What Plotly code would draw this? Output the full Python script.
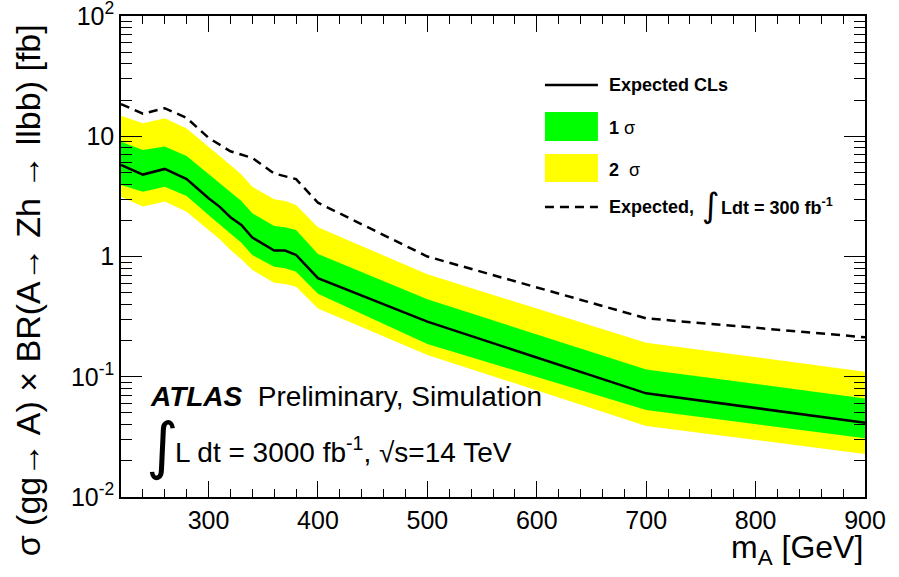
import plotly.graph_objects as go

# ---- data ----
mass = [220, 240, 260, 280, 300, 310, 320, 330, 340, 360, 370, 380, 400, 500, 700, 900]
expected = [5.77, 4.8, 5.35, 4.4, 3.05, 2.6, 2.12, 1.83, 1.44, 1.12, 1.12, 1.03, 0.66, 0.287, 0.0728, 0.0415]
plus1 = [9.0, 7.7, 8.2, 6.85, 4.85, 4.1, 3.46, 2.9, 2.29, 1.79, 1.75, 1.66, 1.05, 0.44, 0.115, 0.066]
minus1 = [3.93, 3.46, 3.81, 3.18, 2.21, 1.85, 1.56, 1.3, 1.03, 0.822, 0.80, 0.748, 0.49, 0.187, 0.053, 0.0308]
plus2 = [14.8, 12.8, 14.1, 11.6, 8.19, 6.9, 5.77, 4.8, 3.81, 2.99, 2.9, 2.68, 1.75, 0.711, 0.192, 0.110]
minus2 = [3.14, 2.6, 2.86, 2.36, 1.66, 1.4, 1.13, 0.95, 0.773, 0.605, 0.59, 0.561, 0.37, 0.152, 0.039, 0.0228]

mass_300 = [220, 240, 260, 280, 300, 320, 340, 360, 380, 400, 500, 700, 900]
expected_300 = [18.5, 15.4, 17.1, 14.2, 9.7, 7.5, 6.6, 4.9, 4.4, 2.8, 1.0, 0.306, 0.213]

y_tickvals = [0.01, 0.1, 1, 10, 100]
y_ticktext = ["10<sup>-2</sup>", "10<sup>-1</sup>", "1", "10", "10<sup>2</sup>"]
y_minorvals = [m * 10 ** e for e in (-2, -1, 0, 1) for m in range(2, 10)]
x_tickvals = [300, 400, 500, 600, 700, 800, 900]

GREEN = "#00ff00"
YELLOW = "#ffff00"
FONT = "Liberation Sans, Arial, Helvetica, sans-serif"

fig = go.Figure()
# 2 sigma band
fig.add_trace(go.Scatter(x=mass, y=plus2, mode="lines", line=dict(width=0, color=YELLOW),
                         showlegend=False, hoverinfo="skip"))
fig.add_trace(go.Scatter(x=mass, y=minus2, mode="lines", line=dict(width=0, color=YELLOW),
                         fill="tonexty", fillcolor=YELLOW, showlegend=False, hoverinfo="skip"))
# 1 sigma band
fig.add_trace(go.Scatter(x=mass, y=plus1, mode="lines", line=dict(width=0, color=GREEN),
                         showlegend=False, hoverinfo="skip"))
fig.add_trace(go.Scatter(x=mass, y=minus1, mode="lines", line=dict(width=0, color=GREEN),
                         fill="tonexty", fillcolor=GREEN, showlegend=False, hoverinfo="skip"))
# expected lines
fig.add_trace(go.Scatter(x=mass, y=expected, mode="lines", line=dict(color="black", width=2.5),
                         showlegend=False))
fig.add_trace(go.Scatter(x=mass_300, y=expected_300, mode="lines",
                         line=dict(color="black", width=2.5, dash="9px,6px"), showlegend=False))
# invisible trace to carry the minor-tick overlay axis
fig.add_trace(go.Scatter(x=[mass[0]], y=[expected[0]], yaxis="y2", mode="markers",
                         marker=dict(opacity=0), showlegend=False, hoverinfo="skip"))

fig.update_layout(
    width=899, height=577,
    margin=dict(l=121, r=34, t=16, b=80, autoexpand=False),
    paper_bgcolor="white", plot_bgcolor="white",
    font=dict(family=FONT, color="black"),
    xaxis=dict(range=[220, 900], tickvals=x_tickvals, ticks="inside", ticklen=16, tickwidth=1.2,
               tickcolor="black", showline=True, linecolor="black", linewidth=1.5, mirror="ticks",
               showgrid=False, zeroline=False, automargin=False, tickfont=dict(size=25, family=FONT),
               minor=dict(dtick=20, tick0=200, ticks="inside", ticklen=8, tickwidth=1.2,
                          tickcolor="black", showgrid=False)),
    yaxis=dict(type="log", range=[-2, 2], tickvals=y_tickvals, ticktext=y_ticktext, ticks="inside",
               ticklen=21, tickwidth=1.2, tickcolor="black", showline=True, linecolor="black",
               linewidth=1.5, mirror="ticks", showgrid=False, zeroline=False, automargin=False,
               ticklabeloverflow="allow", tickfont=dict(size=25, family=FONT)),
    yaxis2=dict(type="log", range=[-2, 2], overlaying="y", anchor="x", side="left",
                tickvals=y_minorvals, showticklabels=False, ticks="inside", ticklen=11,
                tickwidth=1.2, tickcolor="black", mirror="ticks", showline=True, automargin=False,
                linecolor="black", linewidth=1.5, showgrid=False, zeroline=False),
    showlegend=False,
)

W = 744.6
H = 481.0
def px(xp):
    return (xp - 120.7) / W
def py(yp):
    return (497 - yp) / H

# axis titles
fig.add_annotation(text="σ (gg→ A) × BR(A→ Zh → llbb) [fb]", xref="paper", yref="paper",
                   x=px(28), y=py(290), textangle=-90, showarrow=False,
                   font=dict(size=34, family=FONT), xanchor="center", yanchor="middle")
fig.add_annotation(text="m<sub>A</sub> [GeV]", xref="paper", yref="paper",
                   x=1.0, y=py(549), showarrow=False, font=dict(size=32, family=FONT),
                   xanchor="right", yanchor="middle")

# ATLAS label
fig.add_annotation(text="<b><i>ATLAS</i></b>  Preliminary, Simulation", xref="paper", yref="paper",
                   x=px(148), y=py(396), showarrow=False, font=dict(size=28, family=FONT),
                   xanchor="left", yanchor="middle")
fig.add_annotation(text="∫", xref="paper", yref="paper", x=px(144), y=py(446), showarrow=False,
                   font=dict(size=62, family="DejaVu Sans"), xanchor="left", yanchor="middle")
fig.add_annotation(text="L dt = 3000 fb<sup>-1</sup>, √s=14 TeV", xref="paper", yref="paper",
                   x=px(173), y=py(450), showarrow=False, font=dict(size=28, family=FONT),
                   xanchor="left", yanchor="middle")

# legend (manual, ROOT style)
fig.add_shape(type="line", xref="paper", yref="paper", x0=px(545), x1=px(598), y0=py(85), y1=py(85),
              line=dict(color="black", width=2.5))
fig.add_shape(type="rect", xref="paper", yref="paper", x0=px(545), x1=px(598), y0=py(141), y1=py(112),
              fillcolor=GREEN, line=dict(width=0))
fig.add_shape(type="rect", xref="paper", yref="paper", x0=px(545), x1=px(598), y0=py(182), y1=py(154),
              fillcolor=YELLOW, line=dict(width=0))
fig.add_shape(type="line", xref="paper", yref="paper", x0=px(545), x1=px(598), y0=py(207), y1=py(207),
              line=dict(color="black", width=2.5, dash="9px,6px"))
leg_font = dict(size=18, family=FONT)
fig.add_annotation(text="<b>Expected CLs</b>", xref="paper", yref="paper", x=px(607), y=py(85),
                   showarrow=False, font=leg_font, xanchor="left", yanchor="middle")
fig.add_annotation(text="<b>1</b> σ", xref="paper", yref="paper", x=px(607), y=py(128),
                   showarrow=False, font=leg_font, xanchor="left", yanchor="middle")
fig.add_annotation(text="<b>2</b>  σ", xref="paper", yref="paper", x=px(607), y=py(170),
                   showarrow=False, font=leg_font, xanchor="left", yanchor="middle")
fig.add_annotation(text="<b>Expected,</b>", xref="paper", yref="paper", x=px(607), y=py(207),
                   showarrow=False, font=leg_font, xanchor="left", yanchor="middle")
fig.add_annotation(text="∫", xref="paper", yref="paper", x=px(700), y=py(205), showarrow=False,
                   font=dict(size=34, family="DejaVu Sans"), xanchor="left", yanchor="middle")
fig.add_annotation(text="<b>Ldt = 300 fb<sup>-1</sup></b>", xref="paper", yref="paper", x=px(719), y=py(207),
                   showarrow=False, font=leg_font, xanchor="left", yanchor="middle")

# remove the default page margin so the figure fills the window from its top-left corner
fig.write_html("out.html", config={"displayModeBar": False},
               post_script="document.body.style.margin='0';")
